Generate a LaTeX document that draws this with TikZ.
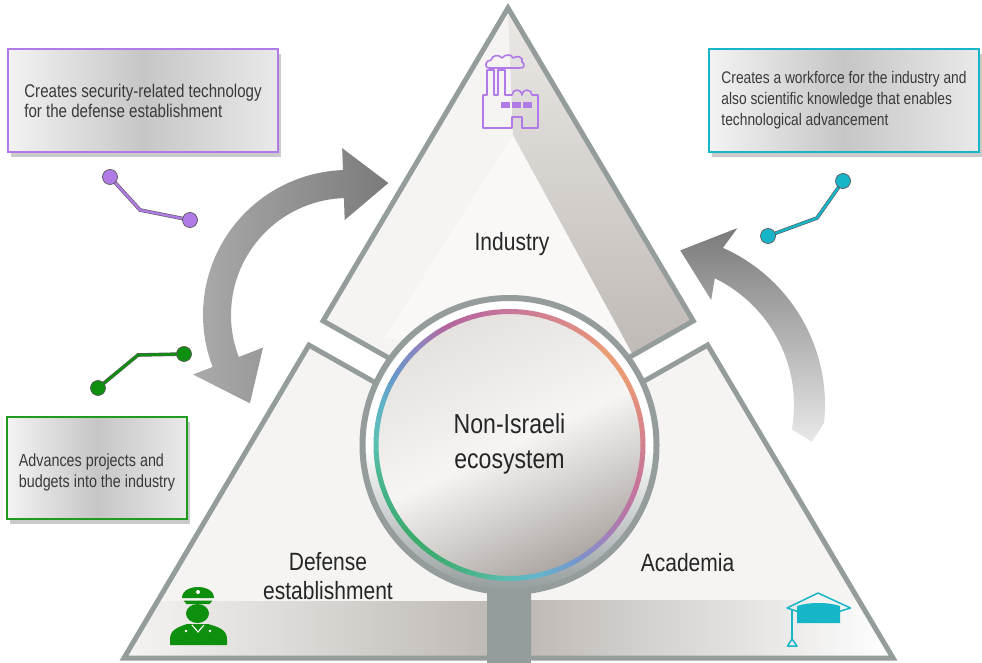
\documentclass[tikz,border=0pt]{standalone}
\usepackage{fontspec}
\setmainfont{Liberation Sans}
\newfontfamily\labelfont{Liberation Sans}[FakeStretch=0.84]
\newfontfamily\notefont{Liberation Sans}[FakeStretch=0.82]
\usetikzlibrary{shadows}
\definecolor{rimgray}{HTML}{959C9C}
\definecolor{pale}{HTML}{F5F4F2}
\definecolor{bandtop}{HTML}{EBE8E5}
\definecolor{bandgray}{HTML}{BFBAB6}
\definecolor{disktop}{HTML}{E4E1DE}
\definecolor{diskmid}{HTML}{F6F5F4}
\definecolor{diskbot}{HTML}{ADA7A3}
\definecolor{boxlight}{HTML}{F3F3F3}
\definecolor{boxmid}{HTML}{C6C6C6}
\definecolor{lilac}{HTML}{B07BE6}
\definecolor{lagoon}{HTML}{17B5C8}
\definecolor{leaf}{HTML}{0E8F0E}
\definecolor{boxgreen}{HTML}{1F9B1F}
\definecolor{inkgray}{HTML}{262626}
\definecolor{notegray}{HTML}{3A3A3A}
\begin{document}
\begin{tikzpicture}[x=1pt,y=-1pt]
\tikzset{
  piece/.style={draw=rimgray, line width=5pt, line join=miter},
  notebox/.style={rectangle, minimum height=103pt, align=left, line width=1.4pt, text=notegray,
    left color=boxlight, right color=boxlight!96!black, middle color=boxmid,
    drop shadow={shadow xshift=3pt, shadow yshift=-5pt, fill=black!40, opacity=0.5}},
  partlabel/.style={text=inkgray, font=\labelfont\fontsize{25}{29.3}\selectfont, align=center, inner sep=0pt},
  wire/.style={draw=black!65, line width=0.6pt, double distance=2.4pt},
  pindot/.style={circle, draw=black!65, line width=0.7pt, minimum size=15pt, inner sep=0pt},
  icon/.style={line width=1.6pt, line join=round}
}
\fill[white] (0,0) rectangle (982,663);
\useasboundingbox (0,0) rectangle (982,663);

\coordinate (A) at (508,8);
\coordinate (B) at (124,658);
\coordinate (C) at (893,658);
\coordinate (P1) at (323.1,320.9);
\coordinate (P3) at (693.3,320.9);
\coordinate (Ti) at (509,425.9);
\coordinate (Q1) at (308.9,345.1);
\coordinate (Li) at (489.5,447.1);
\coordinate (Lb) at (489.5,658);
\coordinate (R1) at (707.6,345);
\coordinate (Ri) at (528.5,447);
\coordinate (Rb) at (528.5,658);

\fill[pale] (A) -- (P1) -- (Ti) -- (P3) -- cycle;
\fill[white, opacity=0.45] (513,135) -- (385,338) -- (636,357) -- cycle;
\shade[top color=bandtop, bottom color=bandgray] (A) -- (513,135) -- (633,355) -- (P3) -- cycle;
\draw[piece] (A) -- (P1) -- (Ti) -- (P3) -- cycle;

\fill[pale] (Q1) -- (Li) -- (Lb) -- (B) -- cycle;
\shade[left color=pale, right color=bandgray] (157.7,601) -- (489.5,601) -- (Lb) -- (B) -- cycle;
\draw[piece] (Q1) -- (Li) -- (Lb) -- (B) -- cycle;

\fill[pale] (R1) -- (Ri) -- (Rb) -- (C) -- cycle;
\shade[left color=bandgray, right color=white] (528.5,600) -- (858.6,600) -- (C) -- (Rb) -- cycle;
\draw[piece] (R1) -- (Ri) -- (Rb) -- (C) -- cycle;

\fill[rimgray] (487,570) rectangle (531,663);

\begin{scope}[shift={(509.5,445)}]
\shade[top color=white, bottom color=rimgray, middle color=white] (0,0) circle[radius=147];
\draw[rimgray, line width=6pt] (0,0) circle[radius=147];
\shade[top color=disktop, bottom color=diskbot, middle color=diskmid, shading angle=25] (0,0) circle[radius=132];
\foreach \a/\ha/\hb in {0/D0808F/C8749A, 15/C8749A/B676A8, 30/B676A8/9A84C0, 45/9A84C0/7398CE,
  60/7398CE/64B4CC, 75/64B4CC/5ABCB2, 90/5ABCB2/4AB48C, 105/4AB48C/40AD74, 120/40AD74/3DAA6E,
  135/3DAA6E/42B07E, 150/42B07E/4AB690, 165/4AB690/5CC0B4, 180/5CC0B4/5FB4C4, 195/5FB4C4/6896C8,
  210/6896C8/8C86C0, 225/8C86C0/B2669F, 240/B2669F/BE6C9C, 255/BE6C9C/C87898, 270/C87898/D48290,
  285/D48290/DE8C84, 300/DE8C84/EA9C74, 315/EA9C74/E89A76, 330/E89A76/DE8A84, 345/DE8A84/D0808F}{
  \definecolor{ringa}{HTML}{\ha}
  \definecolor{ringb}{HTML}{\hb}
  \foreach \k [evaluate=\k as \p using int(20*\k)] in {0,...,4}
    \draw[line width=5pt, ringb!\p!ringa] (\a+3*\k:133.5) arc[start angle=\a+3*\k, end angle=\a+3*\k+3.3, radius=133.5];
}
\end{scope}

\node[partlabel, anchor=base] (industry) at (512,250) {Industry};
\node[partlabel] (defense) at (328,576.3) {Defense\\establishment};
\node[partlabel, anchor=base] (academia) at (687.5,571) {Academia};
\node[partlabel, font=\labelfont\fontsize{27.5}{35}\selectfont] (eco) at (509.5,443.4) {Non-Israeli\\ecosystem};

\draw[lilac, icon] (489,68) .. controls (484,68) and (485,60) .. (491,60) .. controls (492,55) and (499,54) .. (502,58)
  .. controls (505,54) and (512,54) .. (513,58) .. controls (517,55) and (524,57) .. (522,62)
  .. controls (526,64) and (524,69) .. (519,68) -- cycle;
\draw[lilac, icon] (483,128) -- (483,95) -- (487,95) -- (487,70) -- (494,70) -- (494,95) -- (498,95) -- (498,70)
  -- (505,70) -- (505,95) -- (512,95) arc[start angle=180, end angle=360, radius=5]
  arc[start angle=180, end angle=360, radius=5] -- (538,95) -- (538,128) -- (522,128) -- (522,117)
  -- (512,117) -- (512,128) -- cycle;
\fill[lilac] (501,102) rectangle (510,108.5);
\fill[lilac] (512,102) rectangle (521,108.5);
\fill[lilac] (523,102) rectangle (532,108.5);

\fill[leaf] (170,645) -- (170,639) .. controls (170,630) and (178,627) .. (187,624) -- (208,624)
  .. controls (219,627) and (227,630) .. (227,639) -- (227,645) -- cycle;
\draw[white, line width=1.1pt] (192,625) -- (198,632) -- (204,625);
\fill[white] (186,631) circle[radius=1.4];
\fill[white] (210,631) circle[radius=1.4];
\fill[leaf] (197.5,613.5) ellipse[x radius=11.5, y radius=9.5];
\fill[leaf] (182,598) .. controls (182,590) and (191,587) .. (198,587) .. controls (205,587) and (214,590) .. (214,598) -- cycle;
\fill[white] (198,592) circle[radius=2];
\fill[leaf] (183.5,600.5) -- (212.5,600.5) -- (209.5,604) -- (186.5,604) -- cycle;

\draw[lagoon, icon, line width=1.5pt] (787,608) -- (818,593) -- (850.5,608) -- (818,618) -- cycle;
\fill[lagoon] (797,606) .. controls (808,602) and (829,602) .. (840,606) -- (840,623) -- (797,623) -- cycle;
\draw[lagoon, icon, line width=1.5pt] (792,609) -- (792,639);
\draw[lagoon, icon, line width=1.5pt] (792,639) -- (797,646) -- (787.5,646) -- cycle;

\shade[shift={(348,315)}, left color=black!33, right color=black!52]
  (159:145) arc[start angle=159, end angle=268, radius=145] -- (268:167) -- (287:138) -- (268:95) -- (268:117)
  arc[start angle=268, end angle=159, radius=117] -- (159:91) -- (138:132) -- (159:166) -- cycle;
\shade[shift={(653,405)}, top color=black!52, bottom color=black!9]
  (294:172) arc[start angle=294, end angle=366, radius=172] -- (373:163) -- (370:141)
  arc[start angle=370, end angle=296, radius=141] -- (299:120) -- (280:157) -- (295.5:196) -- cycle;

\node[notebox, draw=lilac, minimum width=270pt, font=\notefont\fontsize{18.4}{20}\selectfont] (techbox) at (143,100.5)
  {Creates security-related technology\\for the defense establishment};
\node[notebox, draw=lagoon, minimum width=270pt, font=\notefont\fontsize{16.8}{21}\selectfont] (workbox) at (844,100.5)
  {Creates a workforce for the industry and\\also scientific knowledge that enables\\technological advancement};
\node[notebox, draw=boxgreen, minimum width=180pt, minimum height=102pt, font=\notefont\fontsize{17.5}{21}\selectfont] (budgetbox) at (97,468)
  {\rule{0pt}{21pt}Advances projects and\\budgets into the industry};

\coordinate (w1a) at (110,177);
\coordinate (w1b) at (140,210);
\coordinate (w1c) at (190,220);
\coordinate (w2a) at (843,181);
\coordinate (w2b) at (817,218);
\coordinate (w2c) at (768,236);
\coordinate (w3a) at (184,354);
\coordinate (w3b) at (138,355);
\coordinate (w3c) at (98,388);
\draw[wire, double=lilac] (w1a) -- (w1b) -- (w1c);
\draw[wire, double=lagoon] (w2a) -- (w2b) -- (w2c);
\draw[wire, double=leaf] (w3a) -- (w3b) -- (w3c);
\node[pindot, fill=lilac] (dot1a) at (w1a) {};
\node[pindot, fill=lilac] (dot1c) at (w1c) {};
\node[pindot, fill=lagoon] (dot2a) at (w2a) {};
\node[pindot, fill=lagoon] (dot2c) at (w2c) {};
\node[pindot, fill=leaf] (dot3a) at (w3a) {};
\node[pindot, fill=leaf] (dot3c) at (w3c) {};
\end{tikzpicture}
\end{document}
